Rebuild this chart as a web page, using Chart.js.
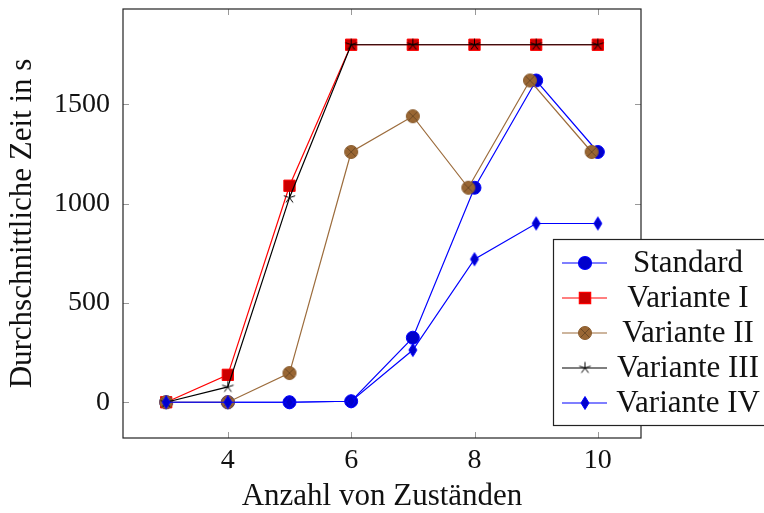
<!DOCTYPE html>
<html>
<head>
<meta charset="utf-8">
<script src="https://cdn.jsdelivr.net/npm/chart.js@4"></script>
<style>
  html, body { margin: 0; padding: 0; background: #fff; }
  #wrap { width: 764px; height: 513px; }
</style>
</head>
<body>
<div id="wrap"><canvas id="chart" width="764" height="513"></canvas></div>
<script>
// Werte
const zustaende = [3, 4, 5, 6, 7, 8, 9, 10];
const zustaendeII = [3, 4, 5, 6, 7, 7.9, 8.9, 9.9]; // Variante II leicht nach links versetzt
const standard = [0, 0, 0, 5, 325, 1080, 1620, 1260];
const varianteI = [0, 138, 1090, 1800, 1800, 1800, 1800, 1800];
const varianteII = [0, 0, 147, 1260, 1440, 1080, 1620, 1260];
const varianteIII = [0, 77, 1030, 1800, 1800, 1800, 1800, 1800];
const varianteIV = [0, 0, 0, 5, 263, 720, 900, 900];

const xTicks = [4, 6, 8, 10];
const yTicks = [0, 500, 1000, 1500];

const FONT = "'Liberation Serif', 'DejaVu Serif', serif";
const TEXT_SIZE = 31;
const TICK_SIZE = 28;

function toPoints(xs, ys) {
  return xs.map((x, i) => ({ x: x, y: ys[i] }));
}

// eigene Marker (pgfplots-Stil)
function makeMarker(w, h, drawFn) {
  const c = document.createElement('canvas');
  c.width = w;
  c.height = h;
  drawFn(c.getContext('2d'), w, h);
  return c;
}

const starMark = makeMarker(15, 15, function(ctx, w, h) {
  ctx.strokeStyle = '#000';
  ctx.lineWidth = 1;
  ctx.beginPath();
  for (let i = 0; i < 5; i++) {
    const a = -Math.PI / 2 + i * 2 * Math.PI / 5;
    ctx.moveTo(w / 2, h / 2);
    ctx.lineTo(w / 2 + 6 * Math.cos(a), h / 2 + 6 * Math.sin(a));
  }
  ctx.stroke();
});

const diamondMark = makeMarker(12, 16, function(ctx, w, h) {
  ctx.fillStyle = '#0000cc';
  ctx.strokeStyle = '#0000ff';
  ctx.lineWidth = 1;
  ctx.beginPath();
  ctx.moveTo(w / 2, 1.5);
  ctx.lineTo(w - 2, h / 2);
  ctx.lineTo(w / 2, h - 1.5);
  ctx.lineTo(2, h / 2);
  ctx.closePath();
  ctx.fill();
  ctx.stroke();
});

const otimesMark = makeMarker(16, 16, function(ctx, w, h) {
  const r = 6.5;
  ctx.fillStyle = '#996633';
  ctx.strokeStyle = '#8a5c2e';
  ctx.lineWidth = 1;
  ctx.beginPath();
  ctx.arc(w / 2, h / 2, r, 0, Math.PI * 2);
  ctx.fill();
  ctx.stroke();
  const d = r * Math.SQRT1_2;
  ctx.strokeStyle = '#6e4a25';
  ctx.beginPath();
  ctx.moveTo(w / 2 - d, h / 2 - d);
  ctx.lineTo(w / 2 + d, h / 2 + d);
  ctx.moveTo(w / 2 + d, h / 2 - d);
  ctx.lineTo(w / 2 - d, h / 2 + d);
  ctx.stroke();
});

const datasets = [
  {
    label: 'Standard',
    data: toPoints(zustaende, standard),
    borderColor: '#0000ff',
    backgroundColor: '#0000cc',
    pointBorderColor: '#0000ff',
    pointStyle: 'circle',
    pointRadius: 6.5,
    order: 5
  },
  {
    label: 'Variante I',
    data: toPoints(zustaende, varianteI),
    borderColor: '#ff0000',
    backgroundColor: '#cc0000',
    pointBorderColor: '#ff0000',
    pointStyle: 'rect',
    pointRadius: 8,
    order: 4
  },
  {
    label: 'Variante II',
    data: toPoints(zustaendeII, varianteII),
    borderColor: '#9c6c3c',
    backgroundColor: '#996633',
    pointStyle: otimesMark,
    pointRadius: 6,
    order: 3
  },
  {
    label: 'Variante III',
    data: toPoints(zustaende, varianteIII),
    borderColor: '#000000',
    backgroundColor: '#000000',
    pointStyle: starMark,
    pointRadius: 6,
    order: 2
  },
  {
    label: 'Variante IV',
    data: toPoints(zustaende, varianteIV),
    borderColor: '#0000ff',
    backgroundColor: '#0000cc',
    pointStyle: diamondMark,
    pointRadius: 6,
    order: 1
  }
];

// Rahmen, Ticks nach innen und Legende im Diagramm
const pgfStyle = {
  id: 'pgfStyle',
  afterDatasetsDraw(chart) {
    const ctx = chart.ctx;
    const a = chart.chartArea;
    const xs = chart.scales.x;
    const ys = chart.scales.y;
    const len = 6;
    ctx.save();
    ctx.strokeStyle = '#999';
    ctx.lineWidth = 1;
    ctx.beginPath();
    xTicks.forEach(v => {
      const px = Math.round(xs.getPixelForValue(v)) + 0.5;
      ctx.moveTo(px, a.bottom);
      ctx.lineTo(px, a.bottom - len);
      ctx.moveTo(px, a.top);
      ctx.lineTo(px, a.top + len);
    });
    yTicks.forEach(v => {
      const py = Math.round(ys.getPixelForValue(v)) + 0.5;
      ctx.moveTo(a.left, py);
      ctx.lineTo(a.left + len, py);
      ctx.moveTo(a.right, py);
      ctx.lineTo(a.right - len, py);
    });
    ctx.stroke();
    ctx.strokeStyle = '#222';
    ctx.lineWidth = 1.2;
    ctx.strokeRect(a.left, a.top, a.right - a.left, a.bottom - a.top);
    ctx.restore();
  },
  afterDraw(chart) {
    const ctx = chart.ctx;
    const box = { left: 553.5, top: 239.5, right: 800, bottom: 425.5 };
    const rowH = 35;
    ctx.save();
    ctx.fillStyle = '#fff';
    ctx.fillRect(box.left, box.top, box.right - box.left, box.bottom - box.top);
    ctx.strokeStyle = '#222';
    ctx.lineWidth = 1.2;
    ctx.strokeRect(box.left, box.top, box.right - box.left, box.bottom - box.top);
    chart.data.datasets.forEach((ds, i) => {
      const cy = 263 + i * rowH;
      ctx.strokeStyle = ds.borderColor;
      ctx.lineWidth = 1.2;
      ctx.beginPath();
      ctx.moveTo(562, cy);
      ctx.lineTo(607, cy);
      ctx.stroke();
      ctx.fillStyle = ds.backgroundColor;
      ctx.strokeStyle = ds.pointBorderColor || ds.borderColor;
      Chart.helpers.drawPoint(ctx, {
        pointStyle: ds.pointStyle,
        radius: ds.pointRadius,
        rotation: 0,
        borderWidth: 1
      }, 585, cy);
      ctx.fillStyle = '#111';
      ctx.font = TEXT_SIZE + 'px ' + FONT;
      ctx.textAlign = 'center';
      ctx.textBaseline = 'middle';
      ctx.fillText(ds.label, 688, cy + 1);
    });
    ctx.restore();
  }
};

function noPad(s) {
  s.paddingTop = 0;
  s.paddingBottom = 0;
  s.paddingLeft = 0;
  s.paddingRight = 0;
}

new Chart(document.getElementById('chart'), {
  type: 'line',
  data: { datasets: datasets },
  plugins: [pgfStyle],
  options: {
    responsive: false,
    animation: false,
    layout: { padding: { left: 0, right: 123, top: 8, bottom: 0 } },
    elements: {
      line: { borderWidth: 1.2, tension: 0, fill: false },
      point: { borderWidth: 1 }
    },
    plugins: {
      legend: { display: false },
      tooltip: { enabled: false }
    },
    scales: {
      x: {
        type: 'linear',
        min: 2.3,
        max: 10.7,
        grid: { display: false, drawTicks: false },
        border: { display: false },
        afterBuildTicks: s => { s.ticks = xTicks.map(v => ({ value: v })); },
        afterFit: s => { s.height = 75; noPad(s); },
        ticks: {
          color: '#111',
          padding: 6,
          font: { family: FONT, size: TICK_SIZE },
          maxRotation: 0,
          callback: v => String(v)
        },
        title: {
          display: true,
          text: 'Anzahl von Zuständen',
          color: '#111',
          font: { family: FONT, size: TEXT_SIZE, lineHeight: 1.05 },
          padding: { top: 0, bottom: 0 }
        }
      },
      y: {
        min: -180,
        max: 1980,
        grid: { display: false, drawTicks: false },
        border: { display: false },
        afterBuildTicks: s => { s.ticks = yTicks.map(v => ({ value: v })); },
        afterFit: s => { s.width = 123; noPad(s); },
        ticks: {
          color: '#111',
          padding: 13,
          font: { family: FONT, size: TICK_SIZE },
          callback: v => String(v)
        },
        title: {
          display: true,
          text: 'Durchschnittliche Zeit in s',
          color: '#111',
          font: { family: FONT, size: TEXT_SIZE },
          padding: { top: 4, bottom: 0 }
        }
      }
    }
  }
});
</script>
</body>
</html>
